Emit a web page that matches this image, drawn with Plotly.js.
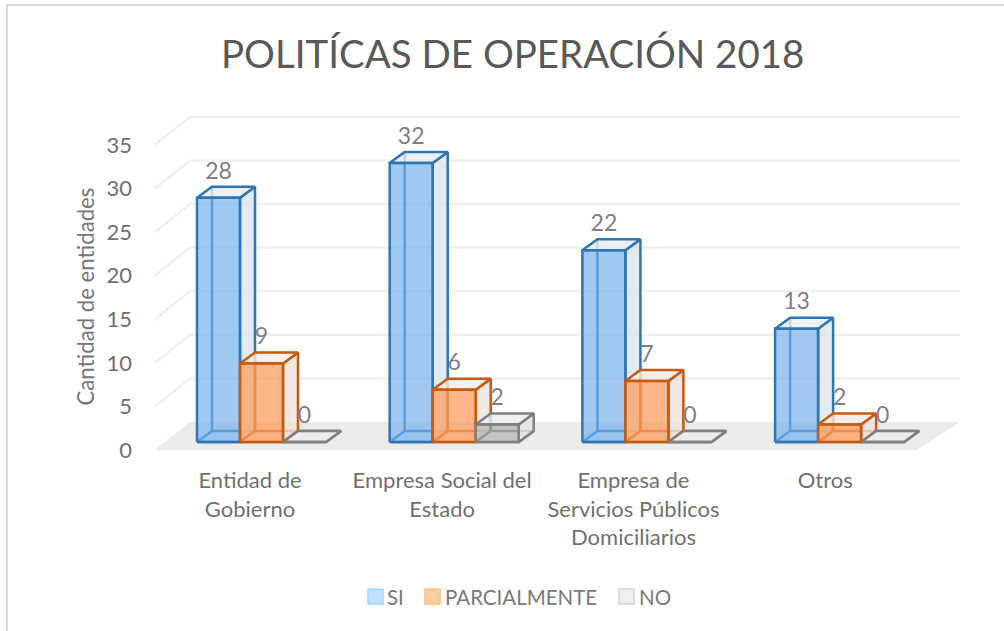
<!DOCTYPE html>
<html><head><meta charset="utf-8">
<script src="https://cdn.plot.ly/plotly-3.0.1.min.js"></script>
<style>html,body{margin:0;padding:0;background:#fff;overflow:hidden}#c{width:1004px;height:631px}</style>
</head><body><div id="c"></div>
<script>
var categories = ["Entidad de<br>Gobierno","Empresa Social del<br>Estado","Empresa de<br>Servicios Públicos<br>Domiciliarios","Otros"];
var seriesNames = ["SI","PARCIALMENTE","NO"];
var valuesSI = [28,32,22,13];
var valuesParcial = [9,6,7,2];
var valuesNo = [0,2,0,0];
var yTicks = [0,5,10,15,20,25,30,35];
var chartTitle = "POLITÍCAS DE OPERACIÓN 2018";
var yTitle = "Cantidad de entidades";

var W=1004,H=631;
var plot={l:155,r:960,t:100,b:450};
var pxX=192.7, pxY=8.72;
var x0px=250;
var xr=[(plot.l-x0px)/pxX,(plot.r-x0px)/pxX];
var yr=[0,(plot.b-plot.t)/pxY];
function ux(p){return p/pxX;} function uy(p){return p/pxY;}
var barW=ux(43), barStart=ux(-53);
var dx=ux(15), dy=uy(11);
var baseY=uy(8);
var wallX=ux(35), wallY=uy(28);
var colors=[
 {line:'#2e75b6',front:'rgba(113,176,234,0.68)',side:'rgba(222,229,236,0.8)',top:'rgba(232,238,243,0.8)'},
 {line:'#c55a11',front:'rgba(252,158,95,0.75)',side:'rgba(238,225,220,0.8)',top:'rgba(243,236,232,0.8)'},
 {line:'#7f7f7f',front:'rgba(170,170,170,0.6)',side:'rgba(228,228,228,0.8)',top:'rgba(236,236,236,0.8)'}
];
var traces=[];
var floorX=[xr[0],ux(917-250),xr[1],xr[0]+wallX,xr[0]];
var floorY=[0,0,wallY,wallY,0];
traces.push({x:floorX,y:floorY,mode:'lines',fill:'toself',fillcolor:'#ebebeb',line:{width:0},hoverinfo:'skip',showlegend:false});
var gx=[],gy=[];
yTicks.slice(1).forEach(function(t){gx.push(xr[0],xr[0]+wallX,xr[1],null);gy.push(t,t+wallY,t+wallY,null);});
traces.push({x:gx,y:gy,mode:'lines',line:{color:'#f0f0f0',width:2.5},hoverinfo:'skip',showlegend:false});
var all=[valuesSI,valuesParcial,valuesNo];
function poly(fn,vals,s){var X=[],Y=[];vals.forEach(function(v,i){var l=i+barStart+s*barW,r=l+barW,b=baseY,t=baseY+v;var p=fn(l,r,b,t);p.forEach(function(q){X.push(q[0]);Y.push(q[1]);});X.push(null);Y.push(null);});return {x:X,y:Y};}
all.forEach(function(vals,s){
 var c=colors[s];
 function add(fn,fill){var p=poly(fn,vals,s);traces.push({x:p.x,y:p.y,mode:'lines',fill:'toself',fillcolor:fill,line:{color:c.line,width:2.5,shape:'linear'},hoverinfo:'skip',showlegend:false,name:seriesNames[s]});}
 add(function(l,r,b,t){return [[l,b],[r,b],[r+dx,b+dy],[l+dx,b+dy],[l,b]];},c.top);
 add(function(l,r,b,t){return [[l+dx,b+dy],[l+dx,t+dy]];},'rgba(0,0,0,0)');
 add(function(l,r,b,t){return [[r,b],[r+dx,b+dy],[r+dx,t+dy],[r,t],[r,b]];},c.side);
 add(function(l,r,b,t){return [[l,t],[r,t],[r+dx,t+dy],[l+dx,t+dy],[l,t]];},c.top);
 add(function(l,r,b,t){return [[l,b],[r,b],[r,t],[l,t],[l,b]];},c.front);
});
all.forEach(function(vals,s){
 traces.push({x:vals.map(function(v,i){return i+barStart+(s+0.5)*barW;}),
  y:vals.map(function(v){return baseY+v+uy(25);}),
  text:vals.map(String),mode:'text',textposition:'middle center',cliponaxis:false,
  textfont:{family:'Lato',size:23,color:'#808080'},hoverinfo:'skip',showlegend:false,name:seriesNames[s]});
});
var legendItems=[[368,388,'#bde3ff','#a6d6ff'],[425,446,'#ffcf9f','#ffbd85'],[619,640,'#efefef','#d6d6d6']];
function pxPaperX(p){return (p-plot.l)/(plot.r-plot.l);} function pxPaperY(p){return (plot.b-p)/(plot.b-plot.t);}
var shapes=[{type:'rect',xref:'paper',yref:'paper',x0:pxPaperX(7),x1:pxPaperX(1020),y0:pxPaperY(650),y1:pxPaperY(5),line:{color:'#d9d9d9',width:2},fillcolor:'rgba(0,0,0,0)',layer:'below'}];
var annotations=[];
legendItems.forEach(function(it,k){
 shapes.push({type:'rect',xref:'paper',yref:'paper',x0:pxPaperX(it[0]),x1:pxPaperX(it[0]+15),y0:pxPaperY(604),y1:pxPaperY(589),fillcolor:it[2],line:{color:it[3],width:1.5}});
 annotations.push({xref:'paper',yref:'paper',x:pxPaperX(it[1]),y:pxPaperY(596.5),xanchor:'left',yanchor:'middle',showarrow:false,text:seriesNames[k],font:{family:'Lato',size:20.5,color:'#7a7a7a'},xshift:-3});
});
annotations.push({xref:'paper',yref:'paper',x:pxPaperX(512.5),y:pxPaperY(53),xanchor:'center',yanchor:'middle',showarrow:false,text:chartTitle,font:{family:'Lato',size:38.5,color:'#595959'}});
annotations.push({xref:'paper',yref:'paper',x:pxPaperX(85),y:pxPaperY(296.5),xanchor:'center',yanchor:'middle',showarrow:false,textangle:-90,text:yTitle,font:{family:'Lato',size:22.2,color:'#767676'}});
var layout={width:W,height:H,paper_bgcolor:'#fff',plot_bgcolor:'rgba(0,0,0,0)',
 margin:{l:plot.l,r:W-plot.r,t:plot.t,b:H-plot.b,pad:0},showlegend:false,
 xaxis:{range:xr,tickmode:'array',tickvals:[0,0.997,1.99,2.985],ticktext:categories,showgrid:false,zeroline:false,showline:false,ticks:'',tickfont:{family:'Lato',size:22,color:'#707070'},ticklabelstandoff:15,fixedrange:true},
 yaxis:{range:yr,tickmode:'array',tickvals:yTicks,ticktext:yTicks.map(String),showgrid:false,zeroline:false,showline:false,ticks:'',tickfont:{family:'Lato',size:22,color:'#707070'},ticklabelstandoff:22,fixedrange:true},
 shapes:shapes,annotations:annotations};
Plotly.newPlot('c',traces,layout,{displayModeBar:false,staticPlot:true});
</script></body></html>
